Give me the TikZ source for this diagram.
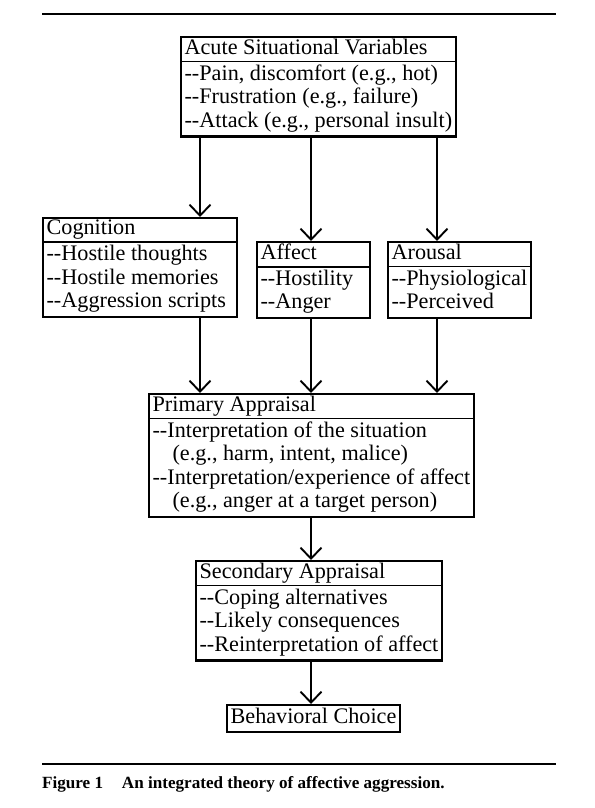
\documentclass[tikz,border=0pt]{standalone}
\usepackage{fontspec}
\setmainfont{Liberation Serif}
\usetikzlibrary{shapes.multipart,arrows.meta}

\newcommand{\dsh}{-\kern0pt-}
\newcommand{\tstrut}{\rule[-5pt]{0pt}{16pt}}

\begin{document}
\begin{tikzpicture}[x=1pt,y=-1pt,
  box/.style={draw,line width=2.2pt,rectangle split,rectangle split parts=2,
    rectangle split draw splits=false,rectangle split part align={left},
    align=left,anchor=north west,
    inner xsep=3.5pt,inner ysep=1pt,font=\fontsize{22.2}{23.5}\selectfont},
  split/.style={line width=1.3pt},
  arr/.style={-{Straight Barb[length=11pt,width=21pt]},line width=1.9pt},
  rule/.style={line width=2.6pt}]

\useasboundingbox (0,0) rectangle (594,808);

\coordinate (colL) at (200,0);
\coordinate (colM) at (311,0);
\coordinate (colR) at (437,0);

\coordinate (R1) at (42,14);
\coordinate (R2) at (556,14);
\coordinate (R3) at (42,764);
\coordinate (R4) at (556,764);

\draw[rule] (R1) -- (R2);
\draw[rule] (R3) -- (R4);

\node[box] (acute) at (180,36) {\tstrut Acute Situational Variables
  \nodepart{two}\strut\dsh Pain, discomfort (e.g., hot)\\\dsh Frustration (e.g., failure)\\\dsh Attack (e.g., personal insult)\strut};

\node[box,minimum width=194pt] (cog) at (42,217) {\tstrut Cognition
  \nodepart{two}\strut\dsh Hostile thoughts\\\dsh Hostile memories\\\dsh Aggression scripts\strut};
\node[box,minimum width=113pt] (aff) at (256,241) {\tstrut Affect
  \nodepart{two}\strut\dsh Hostility\\\dsh Anger\strut};
\node[box] (aro) at (387,241) {\tstrut Arousal
  \nodepart{two}\strut\dsh Physiological\\\dsh Perceived\strut};

\node[box] (prim) at (148,393) {\tstrut Primary Appraisal
  \nodepart{two}\strut\dsh Interpretation of the situation\\\hspace{0.9em}(e.g., harm, intent, malice)\\\dsh Interpretation/experience of affect\\\hspace{0.9em}(e.g., anger at a target person)\strut};

\node[box] (sec) at (195,560) {\tstrut Secondary Appraisal
  \nodepart{two}\strut\dsh Coping alternatives\\\dsh Likely consequences\\\dsh Reinterpretation of affect\strut};

\node[draw,line width=2.2pt,anchor=north west,inner xsep=3.5pt,inner ysep=1.5pt,
  font=\fontsize{22.2}{23.5}\selectfont] (beh) at (226,704) {\strut Behavioral Choice};

\draw[split] (acute.text split west) -- (acute.text split east);
\draw[split] (cog.text split west) -- (cog.text split east);
\draw[split] (aff.text split west) -- (aff.text split east);
\draw[split] (aro.text split west) -- (aro.text split east);
\draw[split] (prim.text split west) -- (prim.text split east);
\draw[split] (sec.text split west) -- (sec.text split east);

\draw[arr] (acute.south -| colL) -- (cog.north -| colL);
\draw[arr] (acute.south -| colM) -- (aff.north -| colM);
\draw[arr] (acute.south -| colR) -- (aro.north -| colR);
\draw[arr] (cog.south -| colL) -- (prim.north -| colL);
\draw[arr] (aff.south -| colM) -- (prim.north -| colM);
\draw[arr] (aro.south -| colR) -- (prim.north -| colR);
\draw[arr] (prim.south -| colM) -- (sec.north -| colM);
\draw[arr] (sec.south -| colM) -- (beh.north -| colM);

\node[anchor=west,inner sep=0pt,font=\bfseries\fontsize{17.1}{19}\selectfont] (cap) at (42,784)
  {Figure 1\hspace{1.1em}An integrated theory of affective aggression.};

\end{tikzpicture}
\end{document}
